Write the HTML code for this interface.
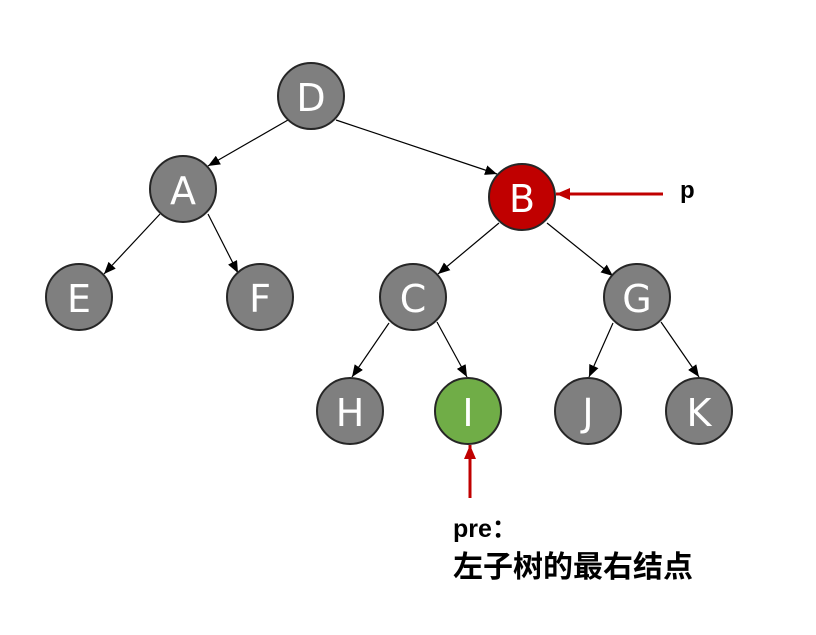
<!DOCTYPE html>
<html><head><meta charset="utf-8"><style>
html,body{margin:0;padding:0;background:#fff;}
svg{display:block;}
.n{stroke:#262626;stroke-width:2;}
.t{font-family:"DejaVu Sans","Liberation Sans",sans-serif;font-size:38px;fill:#fff;text-anchor:middle;dominant-baseline:central;font-weight:normal;}
</style></head><body>
<svg width="816" height="635" viewBox="0 0 816 635" xmlns="http://www.w3.org/2000/svg">
<defs>
<marker id="a" markerWidth="12" markerHeight="10" refX="12" refY="5" orient="auto" markerUnits="userSpaceOnUse"><path d="M0,0 L12,5 L0,10 z" fill="#000"/></marker>
<marker id="r" markerWidth="14" markerHeight="12" refX="14" refY="6" orient="auto" markerUnits="userSpaceOnUse"><path d="M0,0 L14,6 L0,12 z" fill="#c00000"/></marker>
</defs>
<g stroke="#000" stroke-width="1.2" marker-end="url(#a)">
<line x1="288" y1="120" x2="208" y2="166"/>
<line x1="336" y1="120" x2="497" y2="174"/>
<line x1="160" y1="214" x2="104" y2="274"/>
<line x1="208" y1="214" x2="238" y2="273"/>
<line x1="499" y1="223" x2="438" y2="274"/>
<line x1="547" y1="223" x2="613" y2="276"/>
<line x1="389" y1="323" x2="352" y2="377"/>
<line x1="437" y1="322" x2="467" y2="377"/>
<line x1="613" y1="323" x2="589" y2="377"/>
<line x1="661" y1="322" x2="699" y2="377"/>
</g>
<g stroke="#c00000" stroke-width="3" marker-end="url(#r)">
<line x1="663" y1="194" x2="556" y2="194"/>
<line x1="470" y1="498" x2="470" y2="445"/>
</g>
<g>
<circle class="n" cx="311" cy="96" r="33" fill="#7f7f7f"/><text class="t" x="311" y="98">D</text>
<circle class="n" cx="183" cy="189" r="33" fill="#7f7f7f"/><text class="t" x="183" y="191">A</text>
<circle class="n" cx="522" cy="197" r="33" fill="#c00000"/><text class="t" x="522" y="199">B</text>
<circle class="n" cx="79" cy="297" r="33" fill="#7f7f7f"/><text class="t" x="79" y="299">E</text>
<circle class="n" cx="260" cy="297" r="33" fill="#7f7f7f"/><text class="t" x="260" y="299">F</text>
<circle class="n" cx="413" cy="297" r="33" fill="#7f7f7f"/><text class="t" x="413" y="299">C</text>
<circle class="n" cx="637" cy="297" r="33" fill="#7f7f7f"/><text class="t" x="637" y="299">G</text>
<circle class="n" cx="350" cy="411" r="33" fill="#7f7f7f"/><text class="t" x="350" y="413">H</text>
<circle class="n" cx="468" cy="411" r="33" fill="#70ad47"/><text class="t" x="468" y="413">I</text>
<circle class="n" cx="588" cy="411" r="33" fill="#7f7f7f"/><text class="t" x="588" y="413">J</text>
<circle class="n" cx="699" cy="411" r="33" fill="#7f7f7f"/><text class="t" x="699" y="413">K</text>
</g>
<text x="680" y="198" font-family="Liberation Sans,sans-serif" font-size="24" font-weight="bold" fill="#000">p</text>
<text x="453" y="537" font-family="Liberation Sans,sans-serif" font-size="25" font-weight="bold" fill="#000">pre：</text>
<text x="453" y="577" font-family="'Liberation Sans','Noto Sans CJK SC',sans-serif" font-size="30" font-weight="bold" fill="#000">左子树的最右结点</text>
</svg>
</body></html>
